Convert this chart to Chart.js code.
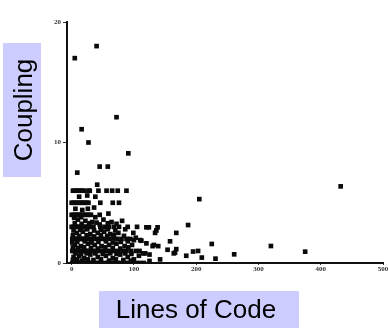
<!DOCTYPE html>
<html>
<head>
<meta charset="utf-8">
<script src="https://cdn.jsdelivr.net/npm/chart.js@4/dist/chart.umd.min.js"></script>
<style>
    html, body { margin: 0; padding: 0; background: #fff; }
    #wrap { width: 389px; height: 328px; position: relative; }
</style>
</head>
<body>
<div id="wrap"><canvas id="chart"></canvas></div>
<script>
// axis titles and ticks
const xTitle = 'Lines of Code';
const yTitle = 'Coupling';
const xTickValues = [0, 100, 200, 300, 400, 500];
const yTickValues = [0, 10, 20];

// [lines of code, coupling] - scattered modules
const sparsePoints = [
    [5, 17.0], [40, 18.0], [72, 12.1], [16, 11.1], [27, 10.0], [91, 9.1], [9, 7.5],
    [45, 8.0], [58, 8.0], [41, 6.5], [205, 5.3], [432, 6.36], [187, 3.15], [136, 2.7],
    [158, 1.8], [225, 1.58], [320, 1.41], [375, 0.94], [261, 0.72], [231, 0.36],
    [130, 1.4], [139, 1.4], [154, 1.1], [168, 1.15], [184, 0.6], [195, 0.95],
    [203, 1.0], [209, 0.45], [164, 0.8], [142, 0.3], [125, 0.7], [115, 0.8],
    [112, 1.85], [110, 1.9], [100, 1.9], [67, 2.05], [103, 2.1], [125, 0.17],
    [166, 0.86], [120, 1.63], [132, 1.5], [99, 2.5], [134, 2.5], [168, 2.5]
];

// [lines of code, coupling] - the dense block near the origin
const densePoints = [
    [1, 0], [4, 0], [7, 0], [10, 0], [13, 0], [16, 0], [19, 0], [22, 0], [25, 0], [28, 0],
    [32, 0], [36, 0], [40, 0], [44, 0], [48, 0], [53, 0], [58, 0], [63, 0], [68, 0], [74, 0],
    [80, 0], [86, 0], [92, 0], [98, 0], [104, 0], [110, 0], [116, 0],
    [3, 0.5], [12, 0.6], [20, 0.4], [30, 0.7], [42, 0.5], [55, 0.6], [66, 0.4], [78, 0.7],
    [90, 0.5], [100, 0.3], [108, 0.6], [118, 0.8],
    [1, 1], [4, 1], [7, 1], [10, 1], [13, 1], [16, 1], [19, 1], [22, 1], [25, 1], [29, 1],
    [34, 1], [39, 1], [45, 1], [50, 1], [56, 1], [62, 1], [68, 1], [75, 1], [82, 1], [88, 1],
    [95, 1], [103, 1], [109, 1],
    [5, 1.5], [15, 1.4], [26, 1.6], [37, 1.5], [48, 1.4], [60, 1.5], [72, 1.6], [85, 1.4], [97, 1.5],
    [1, 2], [4, 2], [7, 2], [10, 2], [13, 2], [16, 2], [19, 2], [22, 2], [26, 2], [31, 2],
    [36, 2], [42, 2], [48, 2], [54, 2], [60, 2], [73, 2], [80, 2], [88, 2], [94, 2],
    [8, 2.5], [18, 2.6], [30, 2.4], [42, 2.5], [52, 2.6], [62, 2.4], [75, 2.5],
    [0, 3], [3, 3], [6, 3], [9, 3], [12, 3], [15, 3], [18, 3], [21, 3], [24, 3], [27, 3],
    [31, 3], [35, 3], [46, 3], [53, 3], [60, 3], [68, 3], [76, 3], [90, 3], [105, 3],
    [120, 2.96], [124, 2.96], [138, 2.96],
    [10, 3.6], [22, 3.5], [33, 3.4], [40, 3.35], [51, 3.6], [64, 3.4], [81, 3.5],
    [0, 4], [3, 4], [6, 4], [9, 4], [12, 4], [15, 4], [18, 4], [21, 4], [24, 4], [28, 4],
    [31, 4], [45, 4], [59, 4.1], [26, 4.5],
    [0, 5], [3, 5], [6, 5], [9, 5], [12, 5], [15, 5], [18, 5], [21, 5], [24, 5], [27, 5],
    [46, 5], [66, 5], [76, 5], [25, 5.6],
    [2, 6], [5, 6], [8, 6], [11, 6], [14, 6], [17, 6], [20, 6], [27, 6], [29, 6], [43, 6],
    [56, 6], [65, 6], [74, 6], [88, 6]
];

// [lines of code, coupling] - fill between the rows, where the scan is solid black
const fillPoints = [
    [2, 0.25], [9, 0.3], [17, 0.2], [26, 0.3], [35, 0.25], [47, 0.3], [60, 0.2], [71, 0.3],
    [83, 0.25], [95, 0.2], [6, 0.8], [15, 0.75], [24, 0.8], [38, 0.8], [50, 0.75], [62, 0.8],
    [72, 0.75], [86, 0.8], [96, 0.75], [2, 1.3], [10, 1.25], [20, 1.3], [31, 1.25], [42, 1.2],
    [54, 1.3], [66, 1.25], [78, 1.2], [91, 1.3], [1, 1.7], [9, 1.75], [21, 1.8], [32, 1.7],
    [43, 1.75], [55, 1.8], [66, 1.7], [79, 1.75], [90, 1.8], [2, 2.3], [12, 2.25], [24, 2.3],
    [36, 2.2], [47, 2.3], [57, 2.25], [68, 2.3], [84, 2.25], [3, 2.7], [14, 2.75], [25, 2.8],
    [36, 2.7], [47, 2.75], [58, 2.8], [70, 2.7], [86, 2.8], [5, 3.3], [16, 3.25], [28, 3.3],
    [45, 3.2], [58, 3.3], [72, 3.25], [4, 3.75], [15, 3.8], [38, 3.8], [6, 4.5], [17, 4.4],
    [36, 4.6], [12, 5.5], [38, 5.5]
];

const allPoints = sparsePoints.concat(densePoints, fillPoints).map(p => ({ x: p[0], y: p[1] }));

// lavender title boxes like the slide
const titleBoxes = {
    id: 'titleBoxes',
    afterDraw(chart) {
        const ctx = chart.ctx;
        ctx.save();
        ctx.fillStyle = '#ccccff';
        ctx.fillRect(99, 291, 200, 37);
        ctx.fillRect(3, 43, 38, 134);
        ctx.fillStyle = '#000';
        ctx.font = '26px "Liberation Sans", Arial, sans-serif';
        ctx.textAlign = 'center';
        ctx.textBaseline = 'alphabetic';
        ctx.fillText(xTitle, 196, 318);
        ctx.translate(32, 110);
        ctx.rotate(-Math.PI / 2);
        ctx.fillText(yTitle, 0, 0);
        ctx.restore();
    }
};

const tickFont = { family: '"Liberation Serif", serif', size: 7, weight: 'bold' };

new Chart(document.getElementById('chart'), {
    type: 'scatter',
    data: {
        datasets: [{
            data: allPoints,
            pointStyle: 'rect',
            radius: 3.3,
            backgroundColor: '#0a0a0a',
            borderWidth: 0
        }]
    },
    options: {
        responsive: true,
        maintainAspectRatio: false,
        animation: false,
        layout: { padding: { top: 22, right: 6, left: 0, bottom: 0 } },
        plugins: { legend: { display: false }, tooltip: { enabled: false } },
        scales: {
            x: {
                type: 'linear',
                min: -7.5,
                max: 500,
                afterBuildTicks: s => { s.ticks = xTickValues.map(v => ({ value: v })); },
                afterFit: s => { s.height = 65; },
                border: { color: '#111', width: 2 },
                grid: { drawOnChartArea: false, tickLength: 2, color: '#333' },
                ticks: { font: tickFont, color: '#333', padding: 0, maxRotation: 0 }
            },
            y: {
                min: 0,
                max: 20,
                afterBuildTicks: s => { s.ticks = yTickValues.map(v => ({ value: v })); },
                afterFit: s => { s.width = 67; },
                border: { color: '#111', width: 2 },
                grid: { drawOnChartArea: false, tickLength: 4, color: '#333' },
                ticks: { font: tickFont, color: '#333', padding: 2 }
            }
        }
    },
    plugins: [titleBoxes]
});
</script>
</body>
</html>
